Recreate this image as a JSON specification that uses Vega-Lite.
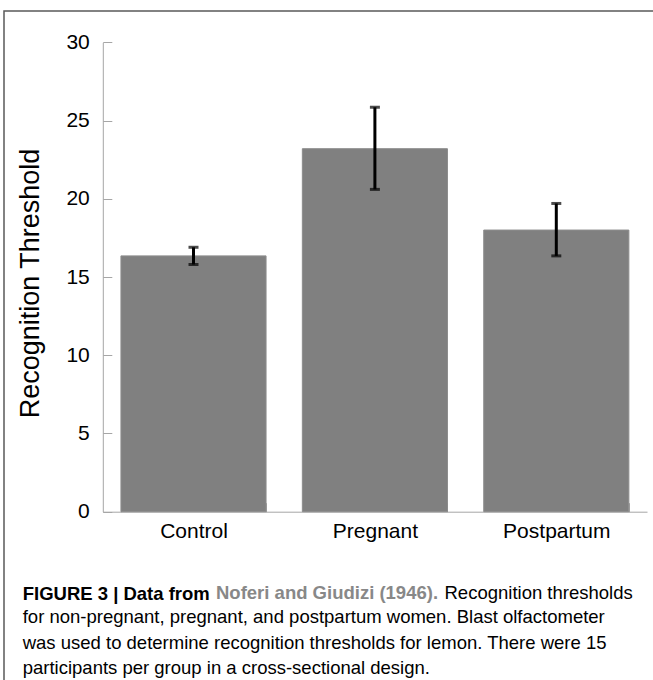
{
  "$schema": "https://vega.github.io/schema/vega-lite/v6.json",
  "width": 652,
  "height": 672,
  "autosize": {"type": "none"},
  "padding": {"left": 4, "top": 11, "right": -3, "bottom": -3},
  "background": "white",
  "config": {
    "font": "Liberation Sans",
    "view": {"stroke": "#5a5a5a", "strokeWidth": 1.5},
    "axis": {"grid": false}
  },
  "title": {
    "text": "FIGURE 3 | Data from",
    "subtitle": [
      "for non-pregnant, pregnant, and postpartum women. Blast olfactometer",
      "was used to determine recognition thresholds for lemon. There were 15",
      "participants per group in a cross-sectional design."
    ],
    "orient": "bottom",
    "anchor": "start",
    "frame": "group",
    "offset": -98.5,
    "dx": 18.7,
    "baseline": "top",
    "font": "Liberation Sans",
    "fontSize": 18.5,
    "fontWeight": "bold",
    "color": "black",
    "subtitleFont": "Liberation Sans",
    "subtitleFontSize": 18.5,
    "subtitleFontWeight": "normal",
    "subtitleColor": "black",
    "subtitleLineHeight": 25.5,
    "subtitlePadding": 5
  },
  "data": {
    "values": [
      {"group": "Control", "mean": 16.35, "low": 15.8, "high": 16.9},
      {"group": "Pregnant", "mean": 23.2, "low": 20.6, "high": 25.85},
      {"group": "Postpartum", "mean": 18.0, "low": 16.35, "high": 19.7}
    ]
  },
  "encoding": {
    "x": {
      "field": "group",
      "type": "nominal",
      "sort": ["Control", "Pregnant", "Postpartum"],
      "scale": {"range": [98.8, 643], "paddingInner": 0.2, "paddingOuter": 0.1},
      "axis": {
        "orient": "bottom",
        "offset": -171.3,
        "domainColor": "#a6a6a6",
        "domainWidth": 1,
        "tickColor": "#a6a6a6",
        "tickWidth": 1,
        "tickSize": -9,
        "tickBand": "extent",
        "labelAngle": 0,
        "labelFont": "Liberation Sans",
        "labelFontSize": 21,
        "labelColor": "black",
        "labelBaseline": "alphabetic",
        "labelPadding": 35,
        "title": "Noferi and Giudizi (1946).",
        "titleFont": "Liberation Sans",
        "titleFontSize": 18.5,
        "titleFontWeight": "bold",
        "titleColor": "#888888",
        "titleAngle": 0,
        "titleAlign": "left",
        "titleBaseline": "alphabetic",
        "titleX": 211.5,
        "titleY": 87
      }
    }
  },
  "layer": [
    {
      "mark": {"type": "bar", "fill": "#808080", "stroke": "#8c8c8c", "strokeWidth": 1},
      "encoding": {
        "y": {
          "field": "mean",
          "type": "quantitative",
          "scale": {"domain": [0, 30], "range": [500.7, 31.3], "nice": false},
          "axis": {
            "orient": "left",
            "offset": -98.8,
            "values": [0, 5, 10, 15, 20, 25, 30],
            "grid": false,
            "domainColor": "#a6a6a6",
            "domainWidth": 1,
            "tickColor": "#a6a6a6",
            "tickWidth": 1,
            "tickSize": -9,
            "labelFont": "Liberation Sans",
            "labelFontSize": 21,
            "labelColor": "black",
            "labelPadding": 22.5,
            "title": "Recognition Threshold",
            "titleFont": "Liberation Sans",
            "titleFontSize": 27,
            "titleFontWeight": "normal",
            "titleColor": "black",
            "titleAngle": -90,
            "titleAlign": "center",
            "titleBaseline": "alphabetic",
            "titleX": -64.5,
            "titleY": 272
          }
        }
      }
    },
    {
      "mark": {"type": "rule", "color": "black", "strokeWidth": 3},
      "encoding": {
        "y": {
          "field": "low",
          "type": "quantitative",
          "axis": {
            "orient": "right",
            "domain": false,
            "ticks": false,
            "labels": false,
            "grid": false,
            "title": "Recognition thresholds",
            "titleFont": "Liberation Sans",
            "titleFontSize": 18.5,
            "titleFontWeight": "normal",
            "titleColor": "black",
            "titleAngle": 0,
            "titleAlign": "left",
            "titleBaseline": "alphabetic",
            "titleX": -212,
            "titleY": 587.7
          }
        },
        "y2": {"field": "high"}
      }
    },
    {
      "mark": {"type": "tick", "color": "black", "thickness": 3, "size": 10},
      "encoding": {"y": {"field": "low", "type": "quantitative", "axis": null}}
    },
    {
      "mark": {"type": "tick", "color": "black", "thickness": 3, "size": 10},
      "encoding": {"y": {"field": "high", "type": "quantitative", "axis": null}}
    }
  ],
  "resolve": {"axis": {"y": "independent"}}
}
